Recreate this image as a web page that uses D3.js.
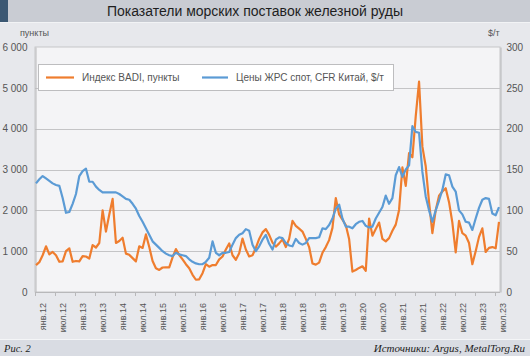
<!DOCTYPE html>
<html><head><meta charset="utf-8">
<script src="https://cdn.jsdelivr.net/npm/d3@7"></script>
<style>
html,body{margin:0;padding:0;background:#e7e8ec;}
svg{display:block;}
</style></head>
<body>
<svg id="c" width="530" height="356"></svg>
<script>
// ---- data (monthly, Jan 2012 .. Aug 2023) ----
const startYear = 2012;
const badi = [660,730,900,1120,920,980,900,740,750,1000,1070,740,
  760,750,880,870,820,1150,1090,1200,2000,1480,1900,2280,
  1200,1250,1330,940,910,830,750,1120,1080,1410,1100,760,
  580,540,600,605,605,850,1050,906,800,680,580,420,
  300,310,460,680,620,660,660,800,870,1040,1190,900,
  790,950,1310,1040,870,900,1080,1300,1460,1540,1400,1210,
  1110,1190,1290,1100,1300,1740,1620,1550,1480,1300,1100,700,
  670,720,960,1100,1270,1570,2300,1900,1770,1640,1300,500,
  540,590,630,520,1800,1380,1540,1700,1300,1240,1320,1500,
  1650,2010,3050,2600,3400,3300,4300,5150,3560,3080,2200,1440,
  2000,2360,2460,2540,2200,1700,970,1740,1440,1380,1200,680,
  1000,1350,1560,980,1080,1100,1070,1720];
const ironOre = [133,138,142,139,136,133,131,130,115,97,98,108,
  120,142,148,151,135,135,129,125,122,122,122,122,
  122,120,117,114,113,108,102,93,86,78,70,62,
  58,54,50,47,45,44,48,46,45,44,40,37,
  35,34,34,37,42,62,48,45,48,48,49,58,
  66,70,72,77,75,58,50,56,64,70,59,52,
  64,67,66,60,57,56,65,60,58,60,66,66,
  66,67,78,77,82,90,102,107,90,80,80,78,
  83,86,87,81,79,80,90,97,104,118,108,115,
  143,153,141,150,155,203,196,195,147,117,100,86,
  100,112,125,144,143,129,123,100,95,86,85,76,
  90,103,113,115,114,96,94,104];
const leftTicks = [0,1000,2000,3000,4000,5000,6000];
const rightTicks = [0,50,100,150,200,250,300];
const tickLabels = ["янв.12","июл.12","янв.13","июл.13","янв.14","июл.14","янв.15","июл.15",
  "янв.16","июл.16","янв.17","июл.17","янв.18","июл.18","янв.19","июл.19",
  "янв.20","июл.20","янв.21","июл.21","янв.22","июл.22","янв.23","июл.23"];
const seriesNames = ["Индекс BADI, пункты","Цены ЖРС спот, CFR Китай, $/т"];
const colors = ["#ef7d2e","#5b9bd5"];

// ---- layout ----
const W = 530, H = 356;
const plot = {l:35, r:500, t:47, b:292};
const svg = d3.select("#c");

// backgrounds
svg.append("rect").attr("x",0).attr("y",0).attr("width",W).attr("height",H).attr("fill","#e7e8ec");
svg.append("rect").attr("x",0).attr("y",0).attr("width",W).attr("height",22).attr("fill","#c9ccd3");
svg.append("rect").attr("x",0).attr("y",0).attr("width",8).attr("height",22).attr("fill","#3c5873");
svg.append("line").attr("x1",0).attr("x2",W).attr("y1",22.5).attr("y2",22.5).attr("stroke","#f2f3f5").attr("stroke-width",1);
svg.append("text").attr("x",255).attr("y",16).attr("text-anchor","middle")
  .attr("font-family","Liberation Sans, Arial, sans-serif").attr("font-size",14).attr("fill","#1e1e1e")
  .attr("font-weight",500)
  .text("Показатели морских поставок железной руды");

// footer
svg.append("rect").attr("x",0).attr("y",340).attr("width",W).attr("height",16).attr("fill","#d9dce3");
svg.append("line").attr("x1",0).attr("x2",W).attr("y1",339.5).attr("y2",339.5).attr("stroke","#f4f5f7");
svg.append("text").attr("x",4).attr("y",351.5).attr("font-family","Liberation Serif, Times New Roman, serif")
  .attr("font-style","italic").attr("font-size",10.5).attr("fill","#222").text("Рис. 2");
svg.append("text").attr("x",525).attr("y",351.5).attr("text-anchor","end").attr("font-family","Liberation Serif, Times New Roman, serif")
  .attr("font-style","italic").attr("font-size",11).attr("fill","#222").text("Источники: Argus, MetalTorg.Ru");

// plot area
svg.append("rect").attr("x",plot.l).attr("y",plot.t).attr("width",plot.r-plot.l).attr("height",plot.b-plot.t)
  .attr("fill","#f4f4f6").attr("stroke","#c6c6c8").attr("stroke-width",1);

const x = d3.scaleLinear().domain([0, badi.length-1]).range([36, 499]);
const yL = d3.scaleLinear().domain([0,6000]).range([plot.b, plot.t]);
const yR = d3.scaleLinear().domain([0,300]).range([plot.b, plot.t]);

// gridlines
svg.append("g").selectAll("line").data(leftTicks.filter(d=>d>0 && d<6000)).join("line")
  .attr("x1",plot.l).attr("x2",plot.r).attr("y1",d=>Math.round(yL(d))+0.5).attr("y2",d=>Math.round(yL(d))+0.5)
  .attr("stroke","#c4c4c6").attr("stroke-width",1);

const fmt = d => d3.format(",")(d).replace(/,/g," ");
// left axis
const gl = svg.append("g").attr("transform",`translate(${plot.l+0.5},0)`)
  .call(d3.axisLeft(yL).tickValues(leftTicks).tickSize(0).tickPadding(8).tickFormat(fmt));
gl.select(".domain").attr("stroke","#b8b8ba");
gl.selectAll("text").attr("font-family","Liberation Sans, Arial, sans-serif").attr("font-size",10).attr("fill","#555");
// right axis
const gr = svg.append("g").attr("transform",`translate(${plot.r+0.5},0)`)
  .call(d3.axisRight(yR).tickValues(rightTicks).tickSize(0).tickPadding(6));
gr.select(".domain").attr("stroke","#b8b8ba");
gr.selectAll("text").attr("font-family","Liberation Sans, Arial, sans-serif").attr("font-size",10).attr("fill","#555");

// axis titles
svg.append("text").attr("x",20).attr("y",36).attr("font-family","Liberation Sans, Arial, sans-serif")
  .attr("font-size",9).attr("fill","#555").text("пункты");
svg.append("text").attr("x",488).attr("y",36).attr("font-family","Liberation Sans, Arial, sans-serif")
  .attr("font-size",9).attr("fill","#555").text("$/т");

// x axis
const tickIdx = tickLabels.map((d,i)=>i*6);
const gx = svg.append("g");
gx.append("line").attr("x1",plot.l).attr("x2",plot.r).attr("y1",plot.b+0.5).attr("y2",plot.b+0.5).attr("stroke","#b8b8ba");
gx.selectAll("line.t").data(tickIdx).join("line").attr("class","t")
  .attr("x1",d=>Math.round(x(d))-0.5).attr("x2",d=>Math.round(x(d))-0.5)
  .attr("y1",plot.b).attr("y2",plot.b+4).attr("stroke","#b8b8ba");
gx.selectAll("text").data(tickIdx).join("text")
  .attr("transform",(d)=>`translate(${x(d)+7},303) rotate(-90)`)
  .attr("text-anchor","end").attr("dominant-baseline","central")
  .attr("font-family","Liberation Sans, Arial, sans-serif").attr("font-size",9).attr("fill","#555")
  .text((d,i)=>tickLabels[i]);

// lines
const lineL = d3.line().x((d,i)=>x(i)).y(d=>yL(d));
const lineR = d3.line().x((d,i)=>x(i)).y(d=>yR(d));
svg.append("path").datum(badi).attr("d",lineL).attr("fill","none").attr("stroke",colors[0])
  .attr("stroke-width",2.2).attr("stroke-linejoin","round");
svg.append("path").datum(ironOre).attr("d",lineR).attr("fill","none").attr("stroke",colors[1])
  .attr("stroke-width",2.2).attr("stroke-linejoin","round");

// legend
const lg = svg.append("g");
lg.append("rect").attr("x",38.5).attr("y",64.5).attr("width",355).attr("height",26)
  .attr("fill","#ffffff").attr("stroke","#bdbdbf");
const legX = [[46,74,82],[202,228,236]];
seriesNames.forEach((n,i)=>{
  lg.append("line").attr("x1",legX[i][0]).attr("x2",legX[i][1]).attr("y1",77.5).attr("y2",77.5)
    .attr("stroke",colors[i]).attr("stroke-width",2.2);
  lg.append("text").attr("x",legX[i][2]).attr("y",81).attr("font-family","Liberation Sans, Arial, sans-serif")
    .attr("font-size",10).attr("fill","#555").text(n);
});
</script>
</body></html>
